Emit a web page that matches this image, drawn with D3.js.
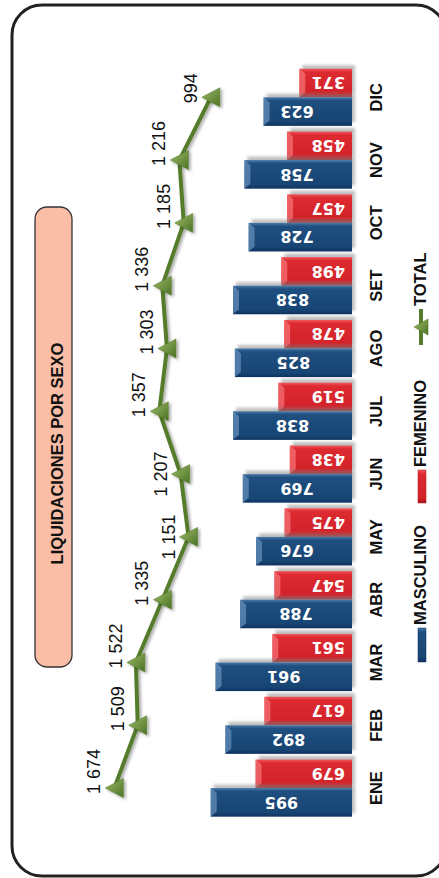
<!DOCTYPE html>
<html>
<head>
<meta charset="utf-8">
<script src="https://cdn.jsdelivr.net/npm/d3@7"></script>
<style>
  html,body{margin:0;padding:0;background:#fff;}
  svg{display:block;}
</style>
</head>
<body>
<svg id="chart" width="439" height="878"></svg>
<script>
const months = ["ENE","FEB","MAR","ABR","MAY","JUN","JUL","AGO","SET","OCT","NOV","DIC"];
const masculino = [995,892,961,788,676,769,838,825,838,728,758,623];
const femenino  = [679,617,561,547,475,438,519,478,498,457,458,371];
const total     = [1674,1509,1522,1335,1151,1207,1357,1303,1336,1185,1216,994];
const seriesNames = ["FEMENINO","MASCULINO"];
const title = "LIQUIDACIONES POR SEXO";

const svg = d3.select("#chart");
const defs = svg.append("defs");

function vgrad(id, stops){
  const g = defs.append("linearGradient").attr("id", id).attr("x1",0).attr("y1",0).attr("x2",0).attr("y2",1);
  stops.forEach(s => g.append("stop").attr("offset", s[0]).attr("stop-color", s[1]));
}
vgrad("gBlue", [[0,"#4a7aa8"],[0.12,"#1f4f80"],[0.85,"#174574"],[1,"#0e3260"]]);
vgrad("gRed", [[0,"#f0585c"],[0.12,"#dc2a30"],[0.85,"#d3222a"],[1,"#a8151b"]]);
const gg = defs.append("linearGradient").attr("id","gGreen").attr("x1",0).attr("y1",0).attr("x2",1).attr("y2",1);
gg.append("stop").attr("offset",0).attr("stop-color","#9dbb66");
gg.append("stop").attr("offset",1).attr("stop-color","#4c7226");
const sh = defs.append("filter").attr("id","shadow").attr("x","-20%").attr("y","-40%").attr("width","140%").attr("height","180%");
sh.append("feGaussianBlur").attr("stdDeviation",1.6);
const sh2 = defs.append("filter").attr("id","mshadow").attr("x","-50%").attr("y","-50%").attr("width","200%").attr("height","200%");
sh2.append("feDropShadow").attr("dx",2).attr("dy",1.5).attr("stdDeviation",1.5).attr("flood-color","#000").attr("flood-opacity",0.35);

// outer border
svg.append("rect").attr("x",12).attr("y",5).attr("width",434).attr("height",871)
  .attr("rx",30).attr("ry",30).attr("fill","#fff").attr("stroke","#222").attr("stroke-width",3);

// title box
svg.append("rect").attr("x",35).attr("y",207).attr("width",37).attr("height",460)
  .attr("rx",12).attr("fill","#f9bea5").attr("stroke","#333").attr("stroke-width",1.3);
svg.append("text").attr("transform","translate(62.5,453.5) rotate(-90)")
  .attr("text-anchor","middle").attr("font-family","Liberation Sans, Arial, sans-serif")
  .attr("font-weight","bold").attr("font-size",16.5).attr("fill","#111").text(title);

const base = 352;
const x = d3.scaleLinear().domain([0,1800]).range([base, base - 1800*0.142]);
const y0 = d3.scaleBand().domain(months).range([819.5, 65.9]).paddingInner(0.09).paddingOuter(0.045);
const y1 = d3.scaleBand().domain(seriesNames).range([0, y0.bandwidth()]);

const data = months.map((m,i)=>({m, fem:femenino[i], masc:masculino[i], tot:total[i]}));

const bars = svg.append("g");
function drawBar(g, v, yTop, h, fill, light){
  const x0 = x(v), w = base - x0;
  g.append("rect").attr("x",x0+3).attr("y",yTop-3.5).attr("width",w).attr("height",h)
    .attr("fill","#8a8a8a").attr("opacity",0.55).attr("filter","url(#shadow)");
  g.append("rect").attr("x",x0).attr("y",yTop).attr("width",w).attr("height",h).attr("fill",fill);
  g.append("path").attr("d",`M${x0},${yTop} L${x0+6},${yTop+5} L${x0+6},${yTop+h-5} L${x0},${yTop+h} Z`)
    .attr("fill",light).attr("opacity",0.55);
}
data.forEach(d=>{
  const g = bars.append("g");
  drawBar(g, d.fem, y0(d.m)+y1("FEMENINO"), y1.bandwidth(), "url(#gRed)", "#ff8a8d");
  drawBar(g, d.masc, y0(d.m)+y1("MASCULINO"), y1.bandwidth(), "url(#gBlue)", "#7ea6d0");
});
const lblFont = "DejaVu Sans, Verdana, sans-serif";
data.forEach(d=>{
  const cyF = y0(d.m)+y1("FEMENINO")+y1.bandwidth()/2;
  const cyM = y0(d.m)+y1("MASCULINO")+y1.bandwidth()/2;
  svg.append("text").attr("transform",`translate(${base-7},${cyF}) rotate(180)`)
    .attr("dy","0.36em").attr("text-anchor","start").attr("font-family",lblFont)
    .attr("font-weight","bold").attr("font-size",16).attr("fill","#fff").text(d.fem);
  const cx = Math.min((x(d.masc)+base)/2, 297);
  svg.append("text").attr("transform",`translate(${cx},${cyM}) rotate(180)`)
    .attr("dy","0.36em").attr("text-anchor","middle").attr("font-family",lblFont)
    .attr("font-weight","bold").attr("font-size",16).attr("fill","#fff").text(d.masc);
});

// category labels
data.forEach(d=>{
  svg.append("text").attr("transform",`translate(382,${y0(d.m)+y0.bandwidth()/2}) rotate(-90)`)
    .attr("text-anchor","middle").attr("font-family","Liberation Sans, Arial, sans-serif")
    .attr("font-weight","bold").attr("font-size",16.5).attr("fill","#111").text(d.m);
});

// total line
const cy = d => y0(d.m)+y0.bandwidth()/2;
const line = d3.line().x(d=>x(d.tot)).y(d=>cy(d));
svg.append("path").datum(data).attr("d",line).attr("fill","none")
  .attr("stroke","#557b2c").attr("stroke-width",4).attr("stroke-linejoin","round")
  .attr("filter","url(#mshadow)");
const tri = (cx,cyy)=>`M${cx-9},${cyy} L${cx+9},${cyy-9.5} L${cx+9},${cyy+9.5} Z`;
data.forEach(d=>{
  svg.append("path").attr("d",tri(x(d.tot),cy(d))).attr("fill","url(#gGreen)")
    .attr("stroke","#5d8233").attr("stroke-width",0.6).attr("filter","url(#mshadow)");
});
const loc = d3.formatLocale({decimal:",", thousands:" ", grouping:[3], currency:["",""]});
const fmt = loc.format(",d");
data.forEach((d,i)=>{
  const next = i < data.length-1 ? data[i+1].tot : d.tot;
  const centered = next - d.tot > 40;
  const yy = centered ? cy(d) : cy(d)+6;
  svg.append("text").attr("transform",`translate(${x(d.tot)-14},${yy}) rotate(-90)`)
    .attr("text-anchor", centered ? "middle" : "start")
    .attr("font-family","Liberation Sans, Arial, sans-serif").attr("font-size",18)
    .attr("fill","#111").text(fmt(d.tot));
});

// legend
const lg = svg.append("g").attr("font-family","Liberation Sans, Arial, sans-serif")
  .attr("font-weight","bold").attr("font-size",16.5).attr("fill","#111");
lg.append("rect").attr("x",418).attr("y",628).attr("width",8).attr("height",34).attr("fill","url(#gBlue)")
  .attr("stroke","#0e3260").attr("stroke-width",0.5);
lg.append("text").attr("transform","translate(426,625) rotate(-90)").text("MASCULINO");
lg.append("rect").attr("x",418).attr("y",470).attr("width",8).attr("height",33).attr("fill","url(#gRed)")
  .attr("stroke","#a8151b").attr("stroke-width",0.5);
lg.append("text").attr("transform","translate(426,467) rotate(-90)").text("FEMENINO");
lg.append("line").attr("x1",421).attr("x2",421).attr("y1",345).attr("y2",309)
  .attr("stroke","#557b2c").attr("stroke-width",4);
lg.append("path").attr("d",`M${421-7},327 L${421+7},319 L${421+7},335 Z`).attr("fill","url(#gGreen)")
  .attr("stroke","#5d8233").attr("stroke-width",0.6);
lg.append("text").attr("transform","translate(426,306) rotate(-90)").text("TOTAL");
</script>
</body>
</html>
